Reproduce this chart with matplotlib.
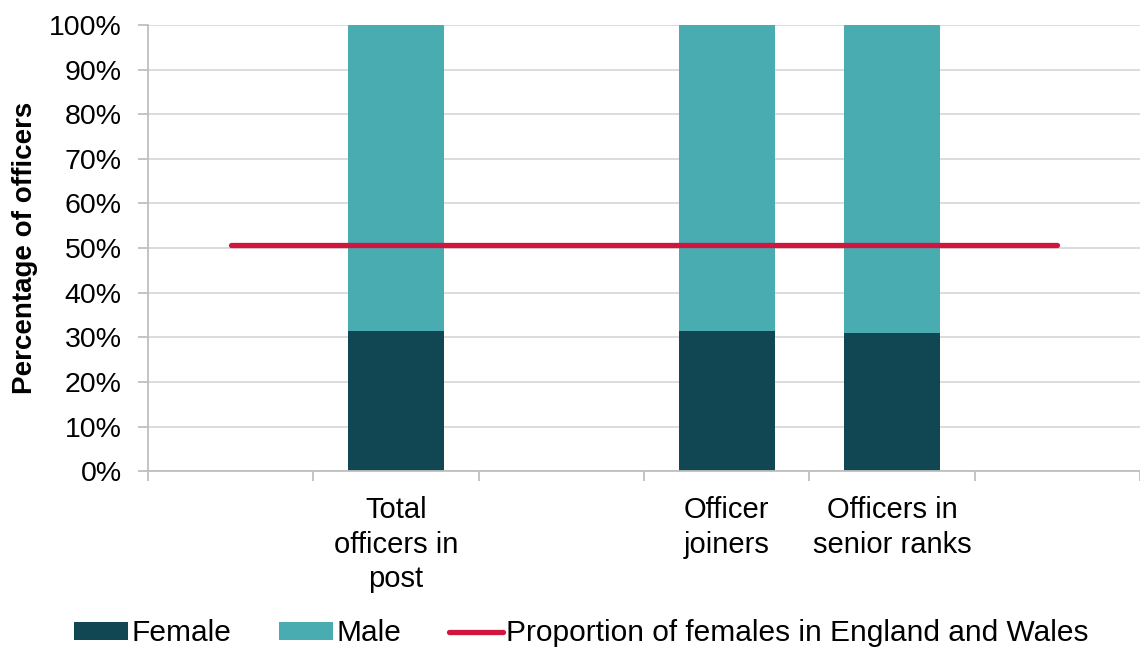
import numpy as np
import matplotlib.pyplot as plt
from matplotlib.ticker import PercentFormatter

plt.rcParams['font.family'] = ['Liberation Sans', 'DejaVu Sans']

# Data (blank slots are empty category positions in the original chart)
categories = ['', 'Total\nofficers in\npost', '', 'Officer\njoiners', 'Officers in\nsenior ranks', '']
female = [np.nan, 31.4, np.nan, 31.4, 31.0, np.nan]
male = [np.nan, 68.6, np.nan, 68.6, 69.0, np.nan]
ew_female_share = 50.8

female_col = '#104752'
male_col = '#48ACB1'
line_col = '#D0163E'
grid_col = '#D9D9D9'
axis_col = '#BFBFBF'

x = np.arange(len(categories))
f = np.nan_to_num(female)
m = np.nan_to_num(male)

fig = plt.figure(figsize=(11.4, 6.49), dpi=100)
ax = fig.add_axes([0.1298, 0.274, 0.8702, 0.6875])

bw = 0.58
b1 = ax.bar(x, f, bw, color=female_col, label='Female', zorder=2)
b2 = ax.bar(x, m, bw, bottom=f, color=male_col, label='Male', zorder=2)
ln, = ax.plot([x[0], x[-1]], [ew_female_share] * 2, color=line_col, lw=3.8,
              solid_capstyle='round', label='Proportion of females in England and Wales', zorder=3)

ax.set_xlim(-0.5, len(categories) - 0.5)
ax.set_ylim(0, 100)
ax.set_yticks(np.arange(0, 101, 10))
ax.yaxis.set_major_formatter(PercentFormatter(decimals=0))
ax.grid(axis='y', color=grid_col, lw=1.3, zorder=0)

ax.set_xticks(x)
ax.set_xticklabels(categories, fontsize=21, linespacing=1.3)
ax.set_xticks(np.arange(-0.5, len(categories)), minor=True)
ax.tick_params(axis='x', which='major', length=0, pad=18)
ax.tick_params(axis='x', which='minor', length=7, color=axis_col, width=1.3)
ax.tick_params(axis='y', length=7, color=axis_col, width=1.3, labelsize=20.5, pad=12)

for s in ['top', 'right']:
    ax.spines[s].set_visible(False)
for s in ['left', 'bottom']:
    ax.spines[s].set_color(axis_col)
    ax.spines[s].set_linewidth(1.3)

ax.set_ylabel('Percentage of officers', fontsize=20, fontweight='bold', labelpad=8)

fig.legend([b1, b2, ln], [b1.get_label(), b2.get_label(), ln.get_label()],
           loc='center', bbox_to_anchor=(0.51, 0.024), ncol=3, frameon=False,
           fontsize=21.5, handlelength=1.8, handleheight=0.55, handletextpad=0.12,
           columnspacing=1.6)

fig.savefig('out.png', dpi=100)
